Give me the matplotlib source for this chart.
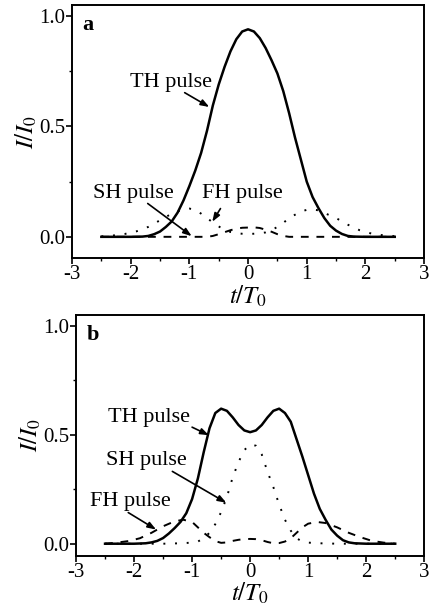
import matplotlib
matplotlib.use("Agg")
import matplotlib.pyplot as plt
from matplotlib.ticker import MultipleLocator

plt.rcParams['font.family'] = ['Liberation Serif', 'DejaVu Serif']
plt.rcParams['mathtext.fontset'] = 'stix'

# ---- panel a ----
t_a_th = [-2.5, -2.0, -1.8, -1.7, -1.6, -1.5, -1.4, -1.3, -1.2, -1.1, -1.0,
          -0.9, -0.8, -0.7, -0.6, -0.5, -0.4, -0.3, -0.2, -0.1, 0.0,
          0.1, 0.2, 0.3, 0.4, 0.5, 0.6, 0.7, 0.8, 0.9, 1.0,
          1.1, 1.2, 1.3, 1.4, 1.5, 1.6, 1.7, 1.8, 2.0, 2.5]
I_a_th = [0.0, 0.0, 0.001, 0.004, 0.012, 0.024, 0.045, 0.07, 0.11, 0.165, 0.23,
          0.30, 0.38, 0.48, 0.595, 0.69, 0.77, 0.84, 0.895, 0.93, 0.94,
          0.93, 0.90, 0.855, 0.80, 0.74, 0.66, 0.56, 0.45, 0.35, 0.25,
          0.18, 0.13, 0.085, 0.05, 0.028, 0.013, 0.004, 0.001, 0.0, 0.0]

t_a_dot = [-2.5, -2.3, -2.1, -1.9, -1.7, -1.5, -1.3, -1.1, -1.0, -0.9, -0.8,
           -0.7, -0.6, -0.5, -0.4, -0.3, -0.2, -0.1, 0.0, 0.1, 0.2, 0.3,
           0.4, 0.5, 0.6, 0.7, 0.8, 0.9, 1.0, 1.1, 1.2, 1.3, 1.5, 1.7,
           1.9, 2.1, 2.3, 2.5]
I_a_dot = [0.002, 0.006, 0.013, 0.025, 0.045, 0.075, 0.105, 0.125, 0.128, 0.122, 0.105,
           0.085, 0.065, 0.047, 0.032, 0.022, 0.016, 0.014, 0.013, 0.014, 0.016, 0.02,
           0.03, 0.045, 0.063, 0.085, 0.10, 0.115, 0.122, 0.124, 0.12, 0.108, 0.085, 0.055,
           0.03, 0.015, 0.007, 0.003]

t_a_dash = [-2.5, -0.7, -0.6, -0.5, -0.4, -0.3, -0.2, -0.1, 0.0, 0.1, 0.2,
            0.3, 0.4, 0.5, 0.6, 0.7, 2.5]
I_a_dash = [0.0, 0.0, 0.004, 0.012, 0.021, 0.03, 0.037, 0.041, 0.042, 0.043, 0.04,
            0.032, 0.023, 0.012, 0.004, 0.0, 0.0]

# ---- panel b ----
t_b_th = [-2.5, -2.0, -1.8, -1.7, -1.6, -1.5, -1.4, -1.3, -1.2, -1.1, -1.0,
          -0.9, -0.8, -0.7, -0.6, -0.5, -0.4, -0.3, -0.2, -0.1, 0.0,
          0.1, 0.2, 0.3, 0.4, 0.5, 0.6, 0.7, 0.8, 0.9, 1.0,
          1.1, 1.2, 1.3, 1.4, 1.5, 1.6, 1.7, 1.8, 2.0, 2.5]
I_b_th = [0.0, 0.0, 0.002, 0.006, 0.013, 0.026, 0.047, 0.072, 0.10, 0.14, 0.205,
          0.30, 0.42, 0.53, 0.60, 0.62, 0.61, 0.58, 0.545, 0.52, 0.512,
          0.52, 0.545, 0.58, 0.61, 0.62, 0.60, 0.56, 0.48, 0.40, 0.315,
          0.23, 0.16, 0.11, 0.065, 0.037, 0.016, 0.006, 0.002, 0.0, 0.0]

t_b_sh = [-2.5, -1.5, -1.2, -1.0, -0.9, -0.8, -0.7, -0.6, -0.5, -0.4, -0.3,
          -0.2, -0.1, 0.0, 0.1, 0.2, 0.3, 0.4, 0.5, 0.6, 0.7, 0.8,
          0.9, 1.0, 1.2, 1.5, 2.5]
I_b_sh = [0.0, 0.0, 0.002, 0.005, 0.01, 0.025, 0.05, 0.09, 0.145, 0.215, 0.305,
          0.375, 0.43, 0.455, 0.45, 0.41, 0.33, 0.26, 0.18, 0.11, 0.06, 0.025,
          0.01, 0.005, 0.002, 0.0, 0.0]

t_b_fh = [-2.5, -2.3, -2.1, -1.9, -1.7, -1.5, -1.3, -1.15, -1.0, -0.9, -0.8,
          -0.7, -0.6, -0.5, -0.4, -0.3, -0.2, -0.1, 0.0, 0.1, 0.2, 0.3,
          0.4, 0.5, 0.6, 0.7, 0.8, 0.9, 1.0, 1.15, 1.3, 1.5, 1.7, 1.9,
          2.1, 2.3, 2.5]
I_b_fh = [0.0, 0.005, 0.012, 0.025, 0.05, 0.08, 0.103, 0.11, 0.10, 0.075, 0.05,
          0.03, 0.012, 0.004, 0.006, 0.013, 0.018, 0.021, 0.022, 0.021, 0.016, 0.008,
          0.002, 0.003, 0.01, 0.025, 0.05, 0.075, 0.092, 0.10, 0.095, 0.075, 0.05, 0.03,
          0.013, 0.005, 0.0]

x_ticks = [-3, -2, -1, 0, 1, 2, 3]
x_tick_labels = ['-3', '-2', '-1', '0', '1', '2', '3']
y_ticks = [0.0, 0.5, 1.0]
y_tick_labels = ['0.0', '0.5', '1.0']

DOT = (0, (1, 5))
DASH = (0, (4, 4))
FS = 16
TFS = 15

fig = plt.figure(figsize=(4.32, 6.12), dpi=100)
ax_a = fig.add_axes([0.1667, 0.5784, 0.815, 0.4134])
ax_b = fig.add_axes([0.176, 0.092, 0.806, 0.3933])

arrow = dict(arrowstyle='-|>,head_length=0.5,head_width=0.18', color='black',
             lw=1.2, shrinkA=0, shrinkB=0)


def style_axes(ax, ymin, letter, xpad):
    ax.set_xlim(-3, 3)
    ax.set_ylim(ymin, 1.05)
    ax.xaxis.set_minor_locator(MultipleLocator(0.5))
    ax.yaxis.set_minor_locator(MultipleLocator(0.25))
    ax.set_xticks(x_ticks)
    ax.set_xticklabels(x_tick_labels)
    ax.set_yticks(y_ticks)
    ax.set_yticklabels(y_tick_labels)
    ax.tick_params(which='major', direction='out', length=4, width=1.2,
                   labelsize=TFS, pad=1)
    ax.tick_params(which='minor', direction='out', length=2.5, width=1.0)
    for sp in ax.spines.values():
        sp.set_linewidth(1.4)
    ax.set_xlabel(r'$t/T_0$', fontsize=FS + 2, labelpad=xpad)
    ax.set_ylabel(r'$I/I_0$', fontsize=FS + 2, labelpad=0)
    ax.text(0.03, 0.96, letter, transform=ax.transAxes, fontsize=FS,
            fontweight='bold', va='top', ha='left')


# panel a
ax_a.plot(t_a_th, I_a_th, color='black', lw=1.8)
ax_a.plot(t_a_dot, I_a_dot, color='black', lw=1.4, linestyle=DOT)
ax_a.plot(t_a_dash, I_a_dash, color='black', lw=1.4, linestyle=DASH)
style_axes(ax_a, -0.096, 'a', 0)
ax_a.text(-1.32, 0.70, 'TH pulse', fontsize=FS, ha='center', va='center')
ax_a.annotate('', xy=(-0.66, 0.588), xytext=(-1.08, 0.653), arrowprops=arrow)
ax_a.text(-1.96, 0.196, 'SH pulse', fontsize=FS, ha='center', va='center')
ax_a.annotate('', xy=(-0.96, 0.003), xytext=(-1.71, 0.151), arrowprops=arrow)
ax_a.text(-0.09, 0.196, 'FH pulse', fontsize=FS, ha='center', va='center')
ax_a.annotate('', xy=(-0.61, 0.068), xytext=(-0.47, 0.128), arrowprops=arrow)

# panel b
ax_b.plot(t_b_th, I_b_th, color='black', lw=1.8)
ax_b.plot(t_b_sh, I_b_sh, color='black', lw=1.4, linestyle=DOT)
ax_b.plot(t_b_fh, I_b_fh, color='black', lw=1.4, linestyle=DASH)
style_axes(ax_b, -0.055, 'b', -1)
ax_b.text(-1.74, 0.579, 'TH pulse', fontsize=FS, ha='center', va='center')
ax_b.annotate('', xy=(-0.71, 0.498), xytext=(-1.0, 0.535), arrowprops=arrow)
ax_b.text(-1.79, 0.38, 'SH pulse', fontsize=FS, ha='center', va='center')
ax_b.annotate('', xy=(-0.41, 0.188), xytext=(-1.34, 0.332), arrowprops=arrow)
ax_b.text(-2.06, 0.195, 'FH pulse', fontsize=FS, ha='center', va='center')
ax_b.annotate('', xy=(-1.62, 0.065), xytext=(-2.1, 0.143), arrowprops=arrow)

fig.savefig('out.png', dpi=100, facecolor='white')
